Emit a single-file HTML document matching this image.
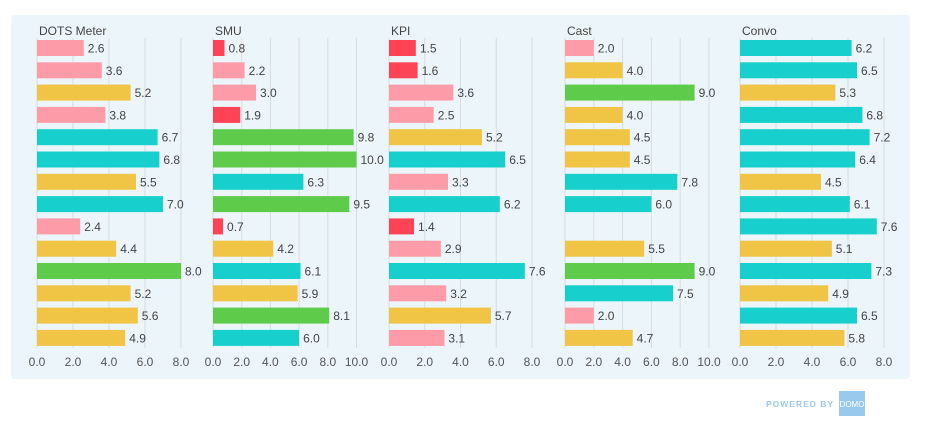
<!DOCTYPE html>
<html><head><meta charset="utf-8"><style>
body{margin:0;width:926px;height:429px;background:#fff;overflow:hidden;font-family:"Liberation Sans",sans-serif}
</style></head><body>
<svg id="chart" width="926" height="429" xmlns="http://www.w3.org/2000/svg">
<rect x="11" y="15" width="899" height="364" rx="4" fill="#ebf5fa"/>
<text x="766" y="407" font-size="8.5" font-weight="bold" fill="#9cc8ea" letter-spacing="1">POWERED BY</text>
<rect x="839" y="391" width="26" height="25" fill="#99c9ec"/>
<text x="852" y="407" font-size="8" fill="#fff" text-anchor="middle">DOMO</text>
</svg>
<script>
const titles=["DOTS Meter","SMU","KPI","Cast","Convo"];
const dotsValues=[2.6,3.6,5.2,3.8,6.7,6.8,5.5,7.0,2.4,4.4,8.0,5.2,5.6,4.9];
const smuValues=[0.8,2.2,3.0,1.9,9.8,10.0,6.3,9.5,0.7,4.2,6.1,5.9,8.1,6.0];
const kpiValues=[1.5,1.6,3.6,2.5,5.2,6.5,3.3,6.2,1.4,2.9,7.6,3.2,5.7,3.1];
const castValues=[2.0,4.0,9.0,4.0,4.5,4.5,7.8,6.0,null,5.5,9.0,7.5,2.0,4.7];
const convoValues=[6.2,6.5,5.3,6.8,7.2,6.4,4.5,6.1,7.6,5.1,7.3,4.9,6.5,5.8];
const dotsColors="ppypttytpygyyy";
const smuColors="rpprggtgrytygt";
const kpiColors="rrppytptrptpyp";
const castColors="pygyyyttyygtpy";
const convoColors="ttytttyttytyty";
const axisMax=[8,10,8,10,8];
const tickStep=2;
const allValues=[dotsValues,smuValues,kpiValues,castValues,convoValues];
const allColors=[dotsColors,smuColors,kpiColors,castColors,convoColors];
const palette={p:"#fd9ca8",r:"#fd4456",y:"#f0c445",t:"#17d0cd",g:"#5fcb4a"};
const NS="http://www.w3.org/2000/svg";
const svg=document.getElementById("chart");
const x0s=[37,213,389,565,740], widths=[144,143.5,143,144,144];
const rowTop=40, rowStep=22.3, barH=16;
function mk(tag,attrs,parent){const e=document.createElementNS(NS,tag);for(const k in attrs)e.setAttribute(k,attrs[k]);(parent||svg).appendChild(e);return e;}
for(let c=0;c<5;c++){
  const g=mk("g",{});
  
  
  const x0=x0s[c], max=axisMax[c];
  const xs=v=>x0+v/max*widths[c];
  const t=mk("text",{x:x0+2,y:35,"font-size":12,fill:"#444"},g);t.textContent=titles[c];
  
  
  for(let v=0;v<=max+1e-9;v+=tickStep){
    const l=mk("line",{x1:xs(v),x2:xs(v),y1:38,y2:348,stroke:"#d8dde0","stroke-width":1},g);
    
    
    const tl=mk("text",{x:xs(v),y:366,"font-size":12,fill:"#555","text-anchor":"middle"},g);
    tl.textContent=v.toFixed(1);
    
    
  }
  const vals=allValues[c], cols=allColors[c];
  vals.forEach((v,i)=>{
    if(v===null)return;
    const y=rowTop+i*rowStep;
    const b=mk("rect",{x:x0,y:y,width:xs(v)-x0,height:barH,fill:palette[cols[i]]},g);
    
    
    const lb=mk("text",{x:xs(v)+4,y:y+12.5,"font-size":12,fill:"#444"},g);
    lb.textContent=v.toFixed(1);
    
    
  });
}
</script>
</body></html>
